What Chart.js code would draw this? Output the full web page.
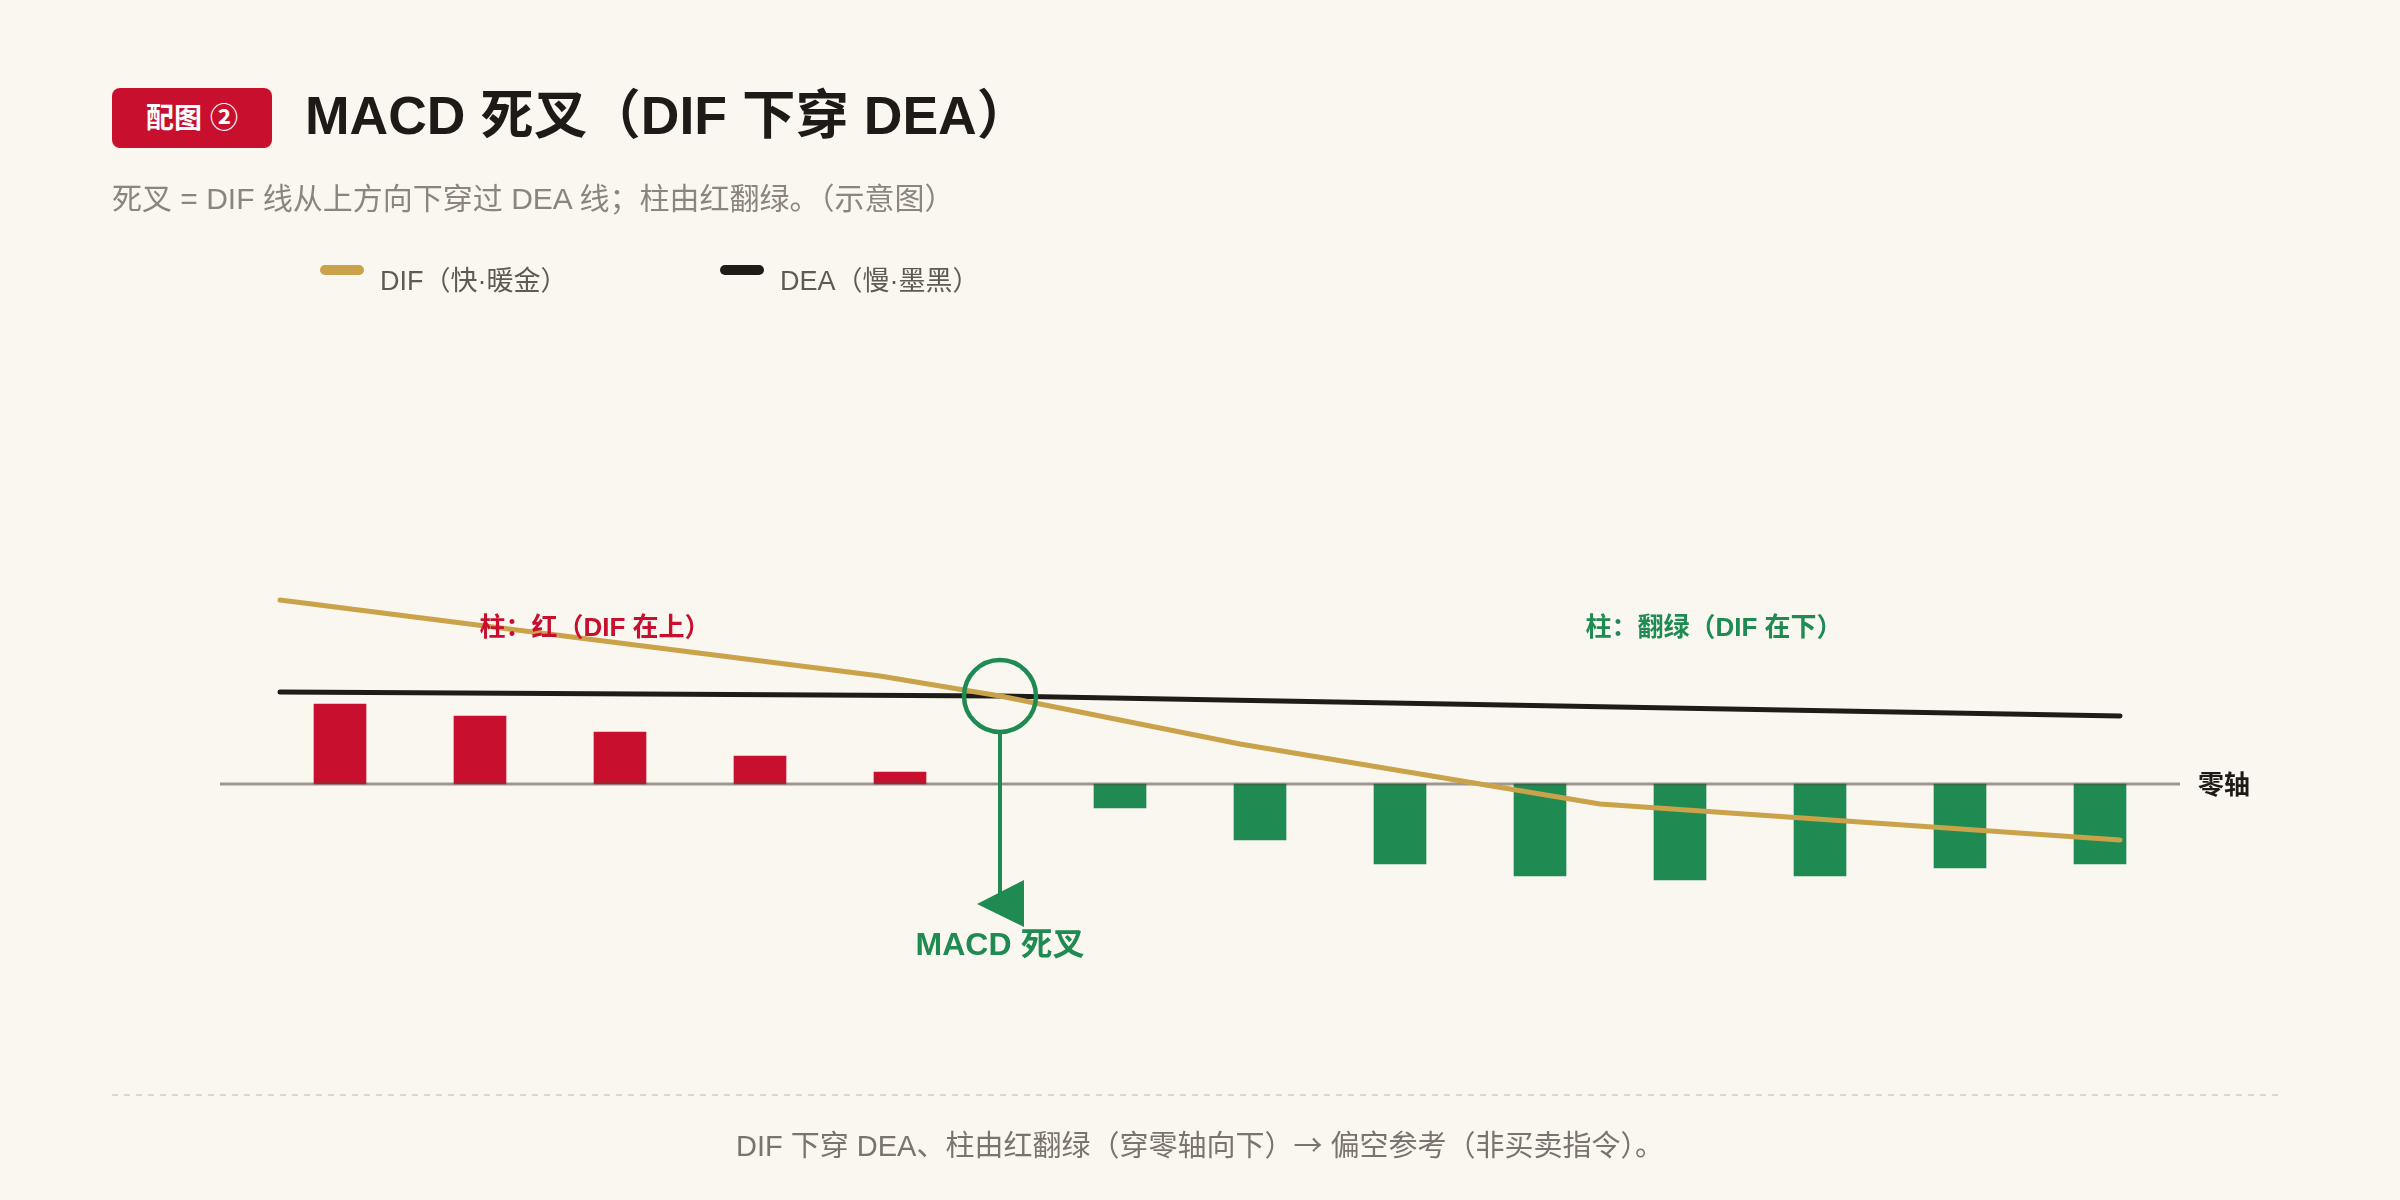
<!DOCTYPE html>
<html lang="zh-CN">
<head>
<meta charset="utf-8">
<title>MACD 死叉（DIF 下穿 DEA）</title>
<script src="https://cdn.jsdelivr.net/npm/chart.js@4.4.1/dist/chart.umd.min.js"></script>
<style>
  html, body { margin: 0; padding: 0; }
  body {
    width: 2400px; height: 1200px; position: relative; overflow: hidden;
    background: #faf7f0;
    font-family: "Liberation Sans", "Noto Sans CJK SC", sans-serif;
  }
  #chart-wrap { position: absolute; left: 0; top: 0; width: 2400px; height: 1200px; }
  .badge {
    position: absolute; left: 112px; top: 88px; width: 160px; height: 60px;
    background: #c8102e; border-radius: 8px; color: #fff;
    font-weight: 700; font-size: 28px; line-height: 62px; text-align: center;
  }
  .title {
    position: absolute; left: 305px; top: 83px; height: 66px; line-height: 66px;
    font-size: 53.5px; font-weight: 700; color: #1f1a17; white-space: nowrap;
  }
  .subtitle {
    position: absolute; left: 112px; top: 179px; line-height: 40px;
    font-size: 30px; color: #8b857d; white-space: nowrap;
  }
  .legend-item { position: absolute; top: 263px; height: 36px; }
  .legend-swatch { position: absolute; top: 2px; width: 44px; height: 10px; border-radius: 5px; }
  .legend-label {
    position: absolute; left: 60px; top: 0; line-height: 36px; font-size: 27px;
    color: #5f5a54; white-space: nowrap;
  }
  .footer-rule {
    position: absolute; left: 112px; top: 1094px; width: 2170px; height: 2px;
    background: repeating-linear-gradient(to right, #dcd6cc 0 6px, transparent 6px 12px);
  }
  .footer {
    position: absolute; left: 0; width: 2400px; top: 1123px; line-height: 40px;
    text-align: center; font-size: 29px; color: #7a746c;
  }
  .footer .arrow { font-family: "Noto Sans CJK SC", sans-serif; }
</style>
</head>
<body>
<div id="chart-wrap"><canvas id="macd-cross"></canvas></div>

<div class="badge">配图 ②</div>
<div class="title">MACD 死叉（DIF 下穿 DEA）</div>
<div class="subtitle">死叉 = DIF 线从上方向下穿过 DEA 线；柱由红翻绿。（示意图）</div>

<div class="legend-item" style="left:320px">
  <span class="legend-swatch" style="background:#c9a24a"></span>
  <span class="legend-label">DIF（快·暖金）</span>
</div>
<div class="legend-item" style="left:720px">
  <span class="legend-swatch" style="background:#1f1b17"></span>
  <span class="legend-label">DEA（慢·墨黑）</span>
</div>

<div class="footer-rule"></div>
<div class="footer">DIF 下穿 DEA、柱由红翻绿（穿零轴向下）<span class="arrow">→</span> 偏空参考（非买卖指令）。</div>

<script>
// histogram (MACD 柱)
const barX = [17, 24, 31, 38, 45, 56, 63, 70, 77, 84, 91, 98, 105];
const histValues = [2.0, 1.7, 1.3, 0.7, 0.3, -0.6, -1.4, -2.0, -2.3, -2.4, -2.3, -2.1, -2.0];

// DIF (fast) and DEA (slow)
const difX = [14, 44, 50, 62, 80, 106];
const difValues = [4.6, 2.7, 2.2, 1.0, -0.5, -1.4];
const deaX = [14, 50, 106];
const deaValues = [2.3, 2.2, 1.7];

// zero axis span
const zeroAxisX = [11, 109];

const crossIndex = 2; // DIF point where it meets DEA

const RED = '#c8102e';
const GREEN = '#1f8a52';
const GOLD = '#c9a24a';
const INK = '#1f1b17';
const FONT = '"Liberation Sans", "Noto Sans CJK SC", sans-serif';

const toPoints = (xs, ys) => xs.map((x, i) => ({ x: x, y: ys[i] }));

const notesPlugin = {
  id: 'macdNotes',
  afterDatasetsDraw(chart) {
    const { ctx, chartArea } = chart;
    const x = chart.scales.x;
    const y = chart.scales.y;
    const cx = x.getPixelForValue(difX[crossIndex]);
    const cy = y.getPixelForValue(difValues[crossIndex]);

    ctx.save();
    // circle around the cross
    ctx.strokeStyle = GREEN;
    ctx.lineWidth = 4.5;
    ctx.beginPath();
    ctx.arc(cx, cy, 36, 0, Math.PI * 2);
    ctx.stroke();

    // pointer stem + head
    ctx.lineWidth = 4;
    ctx.beginPath();
    ctx.moveTo(cx, cy + 36);
    ctx.lineTo(cx, cy + 200);
    ctx.stroke();
    ctx.fillStyle = GREEN;
    ctx.beginPath();
    ctx.moveTo(cx - 23, cy + 208);
    ctx.lineTo(cx + 24, cy + 184);
    ctx.lineTo(cx + 24, cy + 231);
    ctx.closePath();
    ctx.fill();

    ctx.textAlign = 'center';
    ctx.textBaseline = 'middle';
    ctx.font = 'bold 32px ' + FONT;
    ctx.fillText('MACD 死叉', cx, cy + 250);

    // region notes
    ctx.font = 'bold 26px ' + FONT;
    ctx.fillStyle = RED;
    ctx.fillText('柱：红（DIF 在上）', x.getPixelForValue(29.75), y.getPixelForValue(3.88));
    ctx.fillStyle = GREEN;
    ctx.fillText('柱：翻绿（DIF 在下）', x.getPixelForValue(85.7), y.getPixelForValue(3.88));

    // zero axis label
    ctx.textAlign = 'left';
    ctx.fillStyle = '#1f1a17';
    ctx.fillText('零轴', chartArea.right + 18, y.getPixelForValue(0) + 3);
    ctx.restore();
  },
};

new Chart(document.getElementById('macd-cross'), {
  type: 'bar',
  data: {
    datasets: [
      {
        type: 'line',
        label: 'DIF',
        data: toPoints(difX, difValues),
        borderColor: GOLD,
        borderWidth: 5,
        borderCapStyle: 'round',
        borderJoinStyle: 'round',
        pointRadius: 0,
        tension: 0,
        order: 0,
      },
      {
        type: 'line',
        label: 'DEA',
        data: toPoints(deaX, deaValues),
        borderColor: INK,
        borderWidth: 5,
        borderCapStyle: 'round',
        borderJoinStyle: 'round',
        pointRadius: 0,
        tension: 0,
        order: 1,
      },
      {
        type: 'line',
        label: '零轴',
        data: toPoints(zeroAxisX, [0, 0]),
        borderColor: 'rgba(80, 72, 64, 0.55)',
        borderWidth: 3,
        pointRadius: 0,
        order: 1.5,
      },
      {
        label: 'MACD 柱',
        data: toPoints(barX, histValues),
        backgroundColor: histValues.map((v) => (v >= 0 ? RED : GREEN)),
        borderWidth: 0,
        barThickness: 52,
        order: 2,
      },
    ],
  },
  options: {
    responsive: true,
    maintainAspectRatio: false,
    animation: false,
    events: [],
    layout: { padding: { top: 544, bottom: 216, left: 220, right: 220 } },
    plugins: {
      legend: { display: false },
      tooltip: { enabled: false },
    },
    scales: {
      x: { type: 'linear', min: 11, max: 109, offset: false, display: false },
      y: { type: 'linear', min: -5, max: 6, display: false },
    },
  },
  plugins: [notesPlugin],
});
</script>
</body>
</html>
